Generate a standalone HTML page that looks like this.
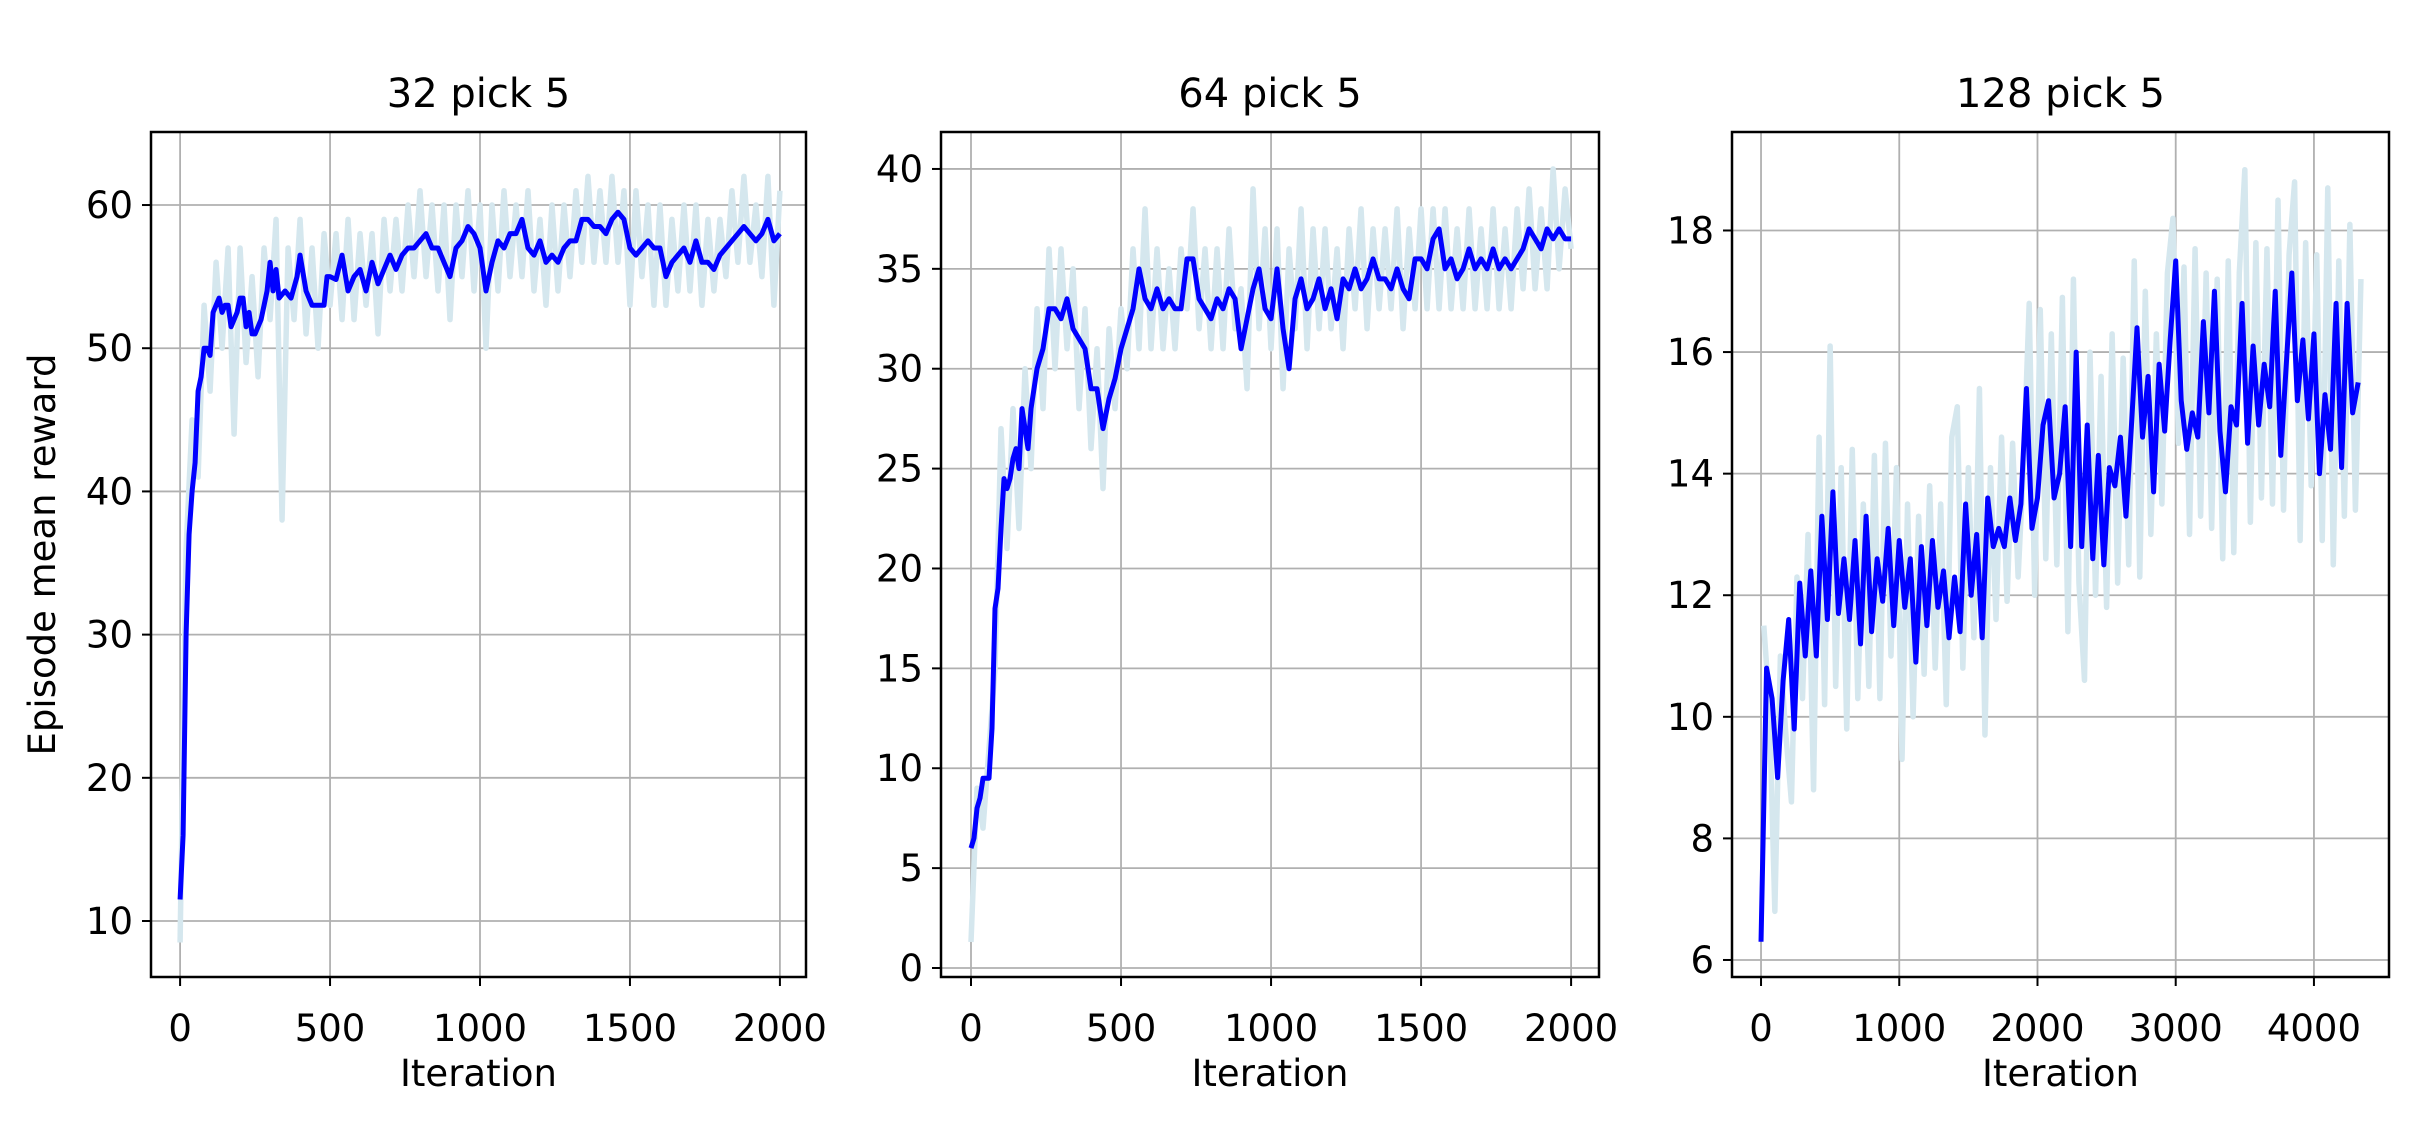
<!DOCTYPE html>
<html><head><meta charset="utf-8"><style>
html,body{margin:0;padding:0;background:#fff}
svg{display:block}
text{font-family:"DejaVu Sans","Liberation Sans",sans-serif;fill:#000}
</style></head><body>
<svg id="fig" width="2436" height="1128" viewBox="0 0 2436 1128" xmlns="http://www.w3.org/2000/svg"></svg>
<script>
// ---- Panel 1 data: 32 pick 5 ----
const p1SmoothX=[0,10,20,30,40,50,60,70,80,90,100,110,120,130,140,150,160,170,180,190,200,210,220,230,240,250,270,290,300,310,320,330,350,370,390,400,420,440,460,480,490,500,520,540,560,580,600,620,640,660,680,700,720,740,760,780,800,820,840,860,880,900,920,940,960,980,1000,1020,1040,1060,1080,1100,1120,1140,1160,1180,1200,1220,1240,1260,1280,1300,1320,1340,1360,1380,1400,1420,1440,1460,1480,1500,1520,1540,1560,1580,1600,1620,1640,1660,1680,1700,1720,1740,1760,1780,1800,1820,1840,1860,1880,1900,1920,1940,1960,1980,2000];
const p1Smooth=[11.5,16,30,37,40,42,47,48,50,50,49.5,52.5,53,53.5,52.5,53,53,51.5,52,52.5,53.5,53.5,51.5,52.5,51,51,52,54,56,54,55.5,53.5,54,53.5,55,56.5,54,53,53,53,55,55,54.8,56.5,54,55,55.5,54,56,54.5,55.5,56.5,55.5,56.5,57,57,57.5,58,57,57,56,55,57,57.5,58.5,58,57,54,56,57.5,57,58,58,59,57,56.5,57.5,56,56.5,56,57,57.5,57.5,59,59,58.5,58.5,58,59,59.5,59,57,56.5,57,57.5,57,57,55,56,56.5,57,56,57.5,56,56,55.5,56.5,57,57.5,58,58.5,58,57.5,58,59,57.5,58];
const p1RawStart=0, p1RawStep=20;
const p1Raw=[8.5,36,45,41,53,47,56,50,57,44,57,49,55,48,57,52,59,38,57,52,59,51,57,50,58,53,58,52,59,52,58,53,58,51,59,54,59,54,60,55,61,55,60,54,60,52,60,55,61,54,60,50,60,54,61,55,60,55,61,54,59,53,60,54,60,55,61,56,62,56,61,56,62,56,61,53,61,55,60,53,60,53,59,54,60,54,60,53,59,54,59,55,61,56,62,56,60,55,62,53,61];
const p1XTicks=[0,500,1000,1500,2000];
const p1YTicks=[10,20,30,40,50,60];

// ---- Panel 2 data: 64 pick 5 ----
const p2SmoothX=[0,10,20,30,40,60,70,80,90,100,110,120,130,140,150,160,170,180,190,200,210,220,240,260,280,300,320,340,360,380,400,420,440,460,480,500,520,540,560,580,600,620,640,660,680,700,720,740,760,780,800,820,840,860,880,900,920,940,960,980,1000,1020,1040,1060,1080,1100,1120,1140,1160,1180,1200,1220,1240,1260,1280,1300,1320,1340,1360,1380,1400,1420,1440,1460,1480,1500,1520,1540,1560,1580,1600,1620,1640,1660,1680,1700,1720,1740,1760,1780,1800,1820,1840,1860,1880,1900,1920,1940,1960,1980,2000];
const p2Smooth=[6,6.5,8,8.5,9.5,9.5,12,18,19,22,24.5,24,24.5,25.5,26,25,28,27,26,28,29,30,31,33,33,32.5,33.5,32,31.5,31,29,29,27,28.5,29.5,31,32,33,35,33.5,33,34,33,33.5,33,33,35.5,35.5,33.5,33,32.5,33.5,33,34,33.5,31,32.5,34,35,33,32.5,35,32,30,33.5,34.5,33,33.5,34.5,33,34,32.5,34.5,34,35,34,34.5,35.5,34.5,34.5,34,35,34,33.5,35.5,35.5,35,36.5,37,35,35.5,34.5,35,36,35,35.5,35,36,35,35.5,35,35.5,36,37,36.5,36,37,36.5,37,36.5,36.5];
const p2RawStart=0, p2RawStep=20;
const p2Raw=[1.3,9,7,11,15,27,21,28,22,30,25,33,28,36,30,36,31,35,28,33,26,31,24,32,28,33,30,36,31,38,31,36,31,35,31,36,33,38,32,36,31,36,31,37,32,34,29,39,32,37,31,37,29,36,32,38,31,37,32,37,32,36,31,37,33,38,32,37,33,37,33,38,32,37,33,38,33,38,33,38,33,37,33,38,33,37,33,38,33,37,33,38,34,39,34,38,34,40,35,39,36];
const p2XTicks=[0,500,1000,1500,2000];
const p2YTicks=[0,5,10,15,20,25,30,35,40];

// ---- Panel 3 data: 128 pick 5 ----
const p3SmoothStart=0, p3SmoothStep=40;
const p3Smooth=[6.3,10.8,10.3,9.0,10.6,11.6,9.8,12.2,11.0,12.4,11.0,13.3,11.6,13.7,11.7,12.6,11.6,12.9,11.2,13.3,11.4,12.6,11.9,13.1,11.5,12.9,11.8,12.6,10.9,12.8,11.5,12.9,11.8,12.4,11.3,12.3,11.4,13.5,12.0,13.0,11.3,13.6,12.8,13.1,12.8,13.6,12.9,13.5,15.4,13.1,13.6,14.8,15.2,13.6,14.0,15.1,12.8,16.0,12.8,14.8,12.6,14.3,12.5,14.1,13.8,14.6,13.3,14.8,16.4,14.6,15.6,13.7,15.8,14.7,16.2,17.5,15.2,14.4,15.0,14.6,16.5,15.0,17.0,14.7,13.7,15.1,14.8,16.8,14.5,16.1,14.8,15.8,15.1,17.0,14.3,15.8,17.3,15.2,16.2,14.9,16.3,14.0,15.3,14.4,16.8,14.1,16.8,15.0,15.5];
const p3RawStart=20, p3RawStep=40;
const p3Raw=[11.5,10.2,6.8,11,9.7,8.6,12.3,10.3,13,8.8,14.6,10.2,16.1,10.5,14.1,9.8,14.4,10.3,13.5,10.5,14.3,10.3,14.5,11,14.1,9.3,13.5,10,13.3,10.7,13.8,10.8,13.5,10.2,14.6,15.1,10.8,14.1,11.3,15.4,9.7,14.1,11.6,14.6,11.9,14.5,12.3,14.2,16.8,12,16.7,12.6,16.3,12.5,16.9,11.4,17.2,12.2,10.6,16,12,15.6,11.8,16.3,12.2,15.9,12.5,17.5,12.3,17.0,13,16.3,13.5,17.3,18.2,14.5,17.4,13,17.7,13.3,17.3,13.1,17.2,12.6,17.5,12.7,17.3,19,13.2,17.8,13.6,17.7,13.5,18.5,13.4,17.6,18.8,12.9,17.8,13.8,17.6,12.9,18.7,12.5,17.5,13.3,18.1,13.4,17.2];
const p3XTicks=[0,1000,2000,3000,4000];
const p3YTicks=[6,8,10,12,14,16,18];

const NS='http://www.w3.org/2000/svg';
const svg=document.getElementById('fig');
function mk(tag,attrs,parent){const e=document.createElementNS(NS,tag);for(const k in attrs)e.setAttribute(k,attrs[k]);(parent||svg).appendChild(e);return e;}

const TOP=132,BOT=977,FS=37;
function panel(id,title,L,R,xmin,xmax,ymin,ymax,xt,yt,rawXs,raw,smX,sm,showYLabel){
  const g=mk('g',{});
  
  
  const sx=v=>L+(v-xmin)/(xmax-xmin)*(R-L);
  const sy=v=>BOT-(v-ymin)/(ymax-ymin)*(BOT-TOP);
  xt.forEach(t=>{const l=mk('line',{x1:sx(t),x2:sx(t),y1:TOP,y2:BOT,stroke:'#b0b0b0','stroke-width':1.8},g);
    });
  yt.forEach(t=>{const l=mk('line',{x1:L,x2:R,y1:sy(t),y2:sy(t),stroke:'#b0b0b0','stroke-width':1.8},g);
    });
  const cp=mk('clipPath',{id:'cp-'+id},g);mk('rect',{x:L,y:TOP,width:R-L,height:BOT-TOP},cp);
  const rp=mk('polyline',{points:raw.map((v,i)=>sx(rawXs[i])+','+sy(v)).join(' '),fill:'none',stroke:'#d5e7ee','stroke-width':5.5,'stroke-linejoin':'round','clip-path':'url(#cp-'+id+')'},g);
  
  const sp=mk('polyline',{points:sm.map((v,i)=>sx(smX[i])+','+sy(v)).join(' '),fill:'none',stroke:'#0000ff','stroke-width':5,'stroke-linejoin':'round','clip-path':'url(#cp-'+id+')'},g);
  
  const fr=mk('rect',{x:L,y:TOP,width:R-L,height:BOT-TOP,fill:'none',stroke:'#000','stroke-width':2.5},g);
  
  xt.forEach(t=>{mk('line',{x1:sx(t),x2:sx(t),y1:BOT,y2:BOT+9,stroke:'#000','stroke-width':2},g);
    const tx=mk('text',{x:sx(t),y:1041,'font-size':FS,'text-anchor':'middle'},g);tx.textContent=t;
    });
  yt.forEach(t=>{mk('line',{x1:L-9,x2:L,y1:sy(t),y2:sy(t),stroke:'#000','stroke-width':2},g);
    const tx=mk('text',{x:L-18,y:sy(t)+13,'font-size':FS,'text-anchor':'end'},g);tx.textContent=t;
    });
  const ti=mk('text',{x:(L+R)/2,y:107,'font-size':40,'text-anchor':'middle'},g);ti.textContent=title;
  
  const xl=mk('text',{x:(L+R)/2,y:1086,'font-size':FS,'text-anchor':'middle'},g);xl.textContent='Iteration';
  
  if(showYLabel){const yl=mk('text',{x:0,y:0,'font-size':FS,'text-anchor':'middle',transform:'translate(55,'+((TOP+BOT)/2)+') rotate(-90)'},g);
    yl.textContent='Episode mean reward';
    }
}
const p1RawX=p1Raw.map((_,i)=>p1RawStart+i*p1RawStep);
const p2RawX=p2Raw.map((_,i)=>p2RawStart+i*p2RawStep);
const p3RawX=p3Raw.map((_,i)=>p3RawStart+i*p3RawStep);
const p3SmoothX=p3Smooth.map((_,i)=>p3SmoothStart+i*p3SmoothStep);
panel('p32','32 pick 5',151,806,-97,2087,6.09,65.1,p1XTicks,p1YTicks,p1RawX,p1Raw,p1SmoothX,p1Smooth,true);
panel('p64','64 pick 5',941,1599,-100,2093,-0.45,41.85,p2XTicks,p2YTicks,p2RawX,p2Raw,p2SmoothX,p2Smooth,false);
panel('p128','128 pick 5',1732,2389,-210,4543,5.72,19.62,p3XTicks,p3YTicks,p3RawX,p3Raw,p3SmoothX,p3Smooth,false);
</script>
</body></html>
